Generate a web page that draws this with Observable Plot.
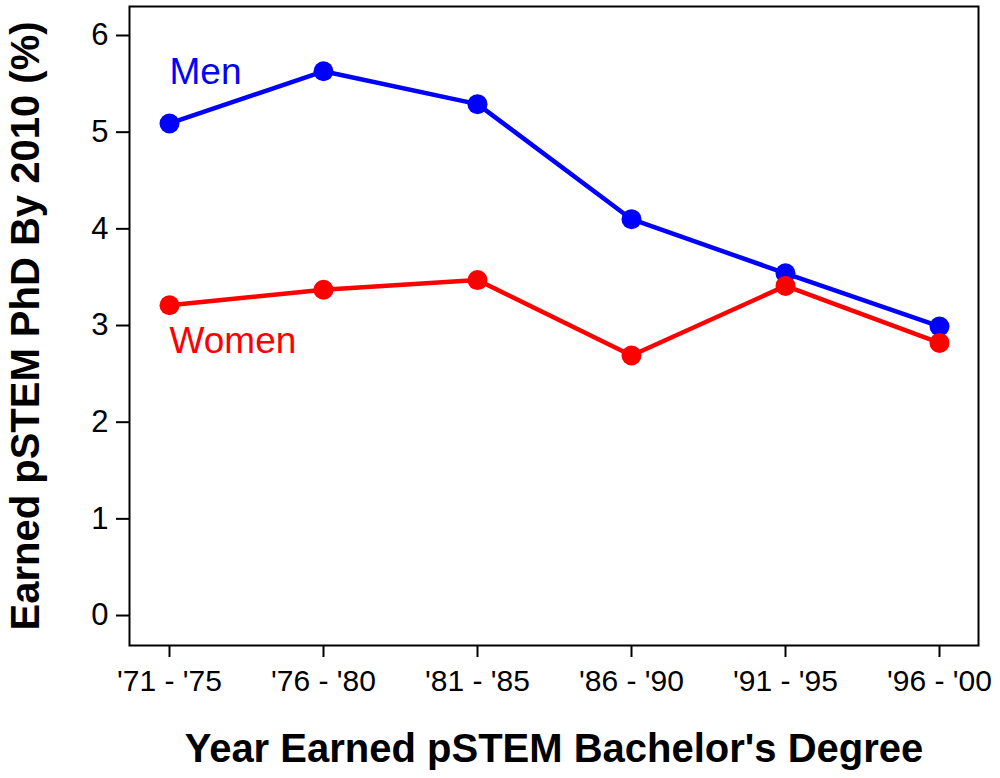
<!DOCTYPE html>
<html>
<head>
<meta charset="utf-8">
<script src="https://cdn.jsdelivr.net/npm/d3@7"></script>
<script src="https://cdn.jsdelivr.net/npm/@observablehq/plot@0.6"></script>
<style>
  html, body { margin: 0; padding: 0; background: #fff; }
  #chart svg { display: block; }
</style>
</head>
<body>
<div id="chart"></div>
<script>
const periods = ["'71 - '75", "'76 - '80", "'81 - '85", "'86 - '90", "'91 - '95", "'96 - '00"];
const menValues = [5.09, 5.63, 5.29, 4.10, 3.54, 2.99];
const womenValues = [3.21, 3.37, 3.47, 2.69, 3.41, 2.82];
const yTicks = [0, 1, 2, 3, 4, 5, 6];
const seriesNames = ["Men", "Women"];
const seriesColors = ["#0000FF", "#FF0000"];
const labelValues = [5.62, 2.84];
const xTitle = "Year Earned pSTEM Bachelor's Degree";
const yTitle = "Earned pSTEM PhD By 2010 (%)";

const rows = [];
periods.forEach((p, i) => {
  rows.push({period: p, value: menValues[i], series: seriesNames[0]});
  rows.push({period: p, value: womenValues[i], series: seriesNames[1]});
});
const labels = seriesNames.map((s, i) => ({series: s, period: periods[0], value: labelValues[i]}));

const chart = Plot.plot({
  width: 1000,
  height: 778,
  marginLeft: 129,
  marginRight: 22,
  marginTop: 6,
  marginBottom: 133,
  style: {fontFamily: "'Liberation Sans', Arial, Helvetica, sans-serif", background: "#fff"},
  x: {type: "point", domain: periods, padding: 0.25},
  y: {domain: [-0.31, 6.3]},
  color: {domain: seriesNames, range: seriesColors},
  marks: [
    Plot.frame({stroke: "#000", strokeWidth: 2}),
    Plot.axisY({ticks: yTicks, tickSize: 13, tickPadding: 8, fontSize: 31, strokeWidth: 2, label: null, tickFormat: d3.format("d")}),
    Plot.axisX({tickSize: 12, tickPadding: 12, fontSize: 30, strokeWidth: 2, label: null}),
    Plot.line(rows, {x: "period", y: "value", z: "series", stroke: "series", strokeWidth: 4.5}),
    Plot.dot(rows, {x: "period", y: "value", fill: "series", r: 10}),
    Plot.text(labels, {x: "period", y: "value", text: "series", fill: "series", textAnchor: "start", fontSize: 37}),
    Plot.text([yTitle], {frameAnchor: "left", textAnchor: "middle", dx: -103, rotate: -90, fontSize: 40, fontWeight: "bold", fill: "#000"}),
    Plot.text([xTitle], {frameAnchor: "bottom", textAnchor: "middle", dy: 116, fontSize: 40, fontWeight: "bold", fill: "#000"})
  ]
});
document.getElementById("chart").appendChild(chart);
</script>
</body>
</html>
